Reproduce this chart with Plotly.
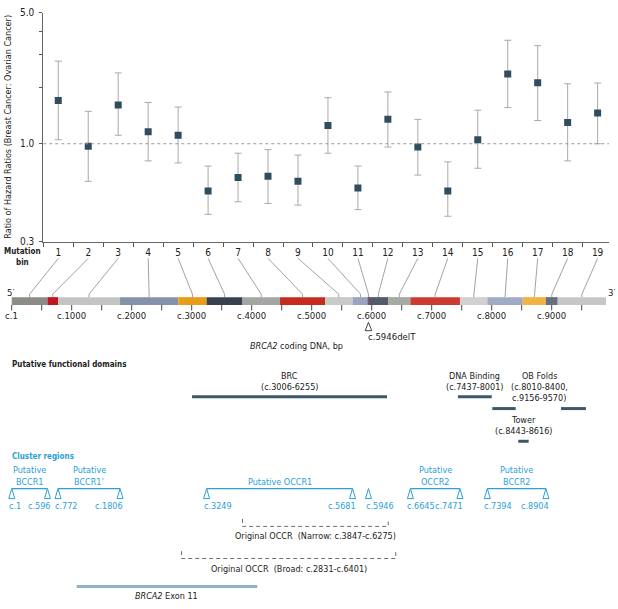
import plotly.graph_objects as go

W, H = 618, 609

# ---------------- data ----------------
bins = list(range(1, 20))
bin_labels = [str(b) for b in bins]
ratio   = [1.70, 0.97, 1.61, 1.16, 1.11, 0.56, 0.66, 0.67, 0.63, 1.25, 0.58, 1.35, 0.96, 0.56, 1.05, 2.36, 2.12, 1.30, 1.46]
ci_low  = [1.05, 0.63, 1.11, 0.81, 0.79, 0.42, 0.49, 0.48, 0.47, 0.89, 0.445, 0.96, 0.68, 0.41, 0.74, 1.56, 1.33, 0.81, 1.00]
ci_high = [2.76, 1.49, 2.39, 1.66, 1.57, 0.76, 0.89, 0.93, 0.87, 1.76, 0.76, 1.89, 1.35, 0.80, 1.51, 3.57, 3.34, 2.09, 2.11]

y_tick_vals = [0.3, 1, 2, 3, 4, 5]
y_tick_text = ["0.3", "1.0", "", "", "", "5.0"]

# mutation-bin segments on the BRCA2 coding sequence (bp)
bin_start_bp = [1, 596, 772, 1806, 2777, 3249, 3847, 4472, 5222, 5681, 5946, 5946, 6275, 6645, 7471, 7927, 8517, 8904, 9100]
bin_end_bp   = [596, 772, 1806, 2777, 3249, 3847, 4472, 5222, 5681, 5946, 5946, 6275, 6645, 7471, 7927, 8517, 8904, 9100, 9905]
bin_colors = ["#8b8c88", "#c1151f", "#c4c4c2", "#8491aa", "#e79d17", "#37424f", "#a4a6a3",
              "#c62b20", "#c9c9c7", "#98a5bd", "#8a4a7c", "#535b6a", "#a7a9a5", "#cc3b31",
              "#d1d1cf", "#9eabc3", "#efb444", "#656d81", "#c5c7c5"]

gene_tick_bp = [0, 500, 1000, 1500, 2000, 2500, 3000, 3500, 4000, 4500, 5000, 5500, 6000, 6500, 7000, 7500, 8000, 8500, 9000, 9500]
gene_label_bp = [1, 1000, 2000, 3000, 4000, 5000, 6000, 7000, 8000, 9000]
gene_label_text = ["c.1", "c.1000", "c.2000", "c.3000", "c.4000", "c.5000", "c.6000", "c.7000", "c.8000", "c.9000"]

mutation_bp = 5946
mutation_label = "c.5946delT"

# putative functional domains
domain_start = [3006, 7437, 8010, 9156, 8443]
domain_end   = [6255, 8001, 8400, 9570, 8616]
domain_row   = [0, 0, 1, 1, 2]
domain_label_lines = [["BRC", "(c.3006-6255)"], ["DNA Binding", "(c.7437-8001)"],
                      ["OB Folds", "(c.8010-8400,", "c.9156-9570)"], ["Tower", "(c.8443-8616)"]]
domain_label_center = [4630, 7719, 8790, 8530]
domain_label_row = [0, 0, 1, 2]

# cluster regions
cluster_names = [["Putative", "BCCR1"], ["Putative", "BCCR1'"], ["Putative OCCR1"], ["Putative", "OCCR2"], ["Putative", "BCCR2"]]
cluster_start = [1, 772, 3249, 6645, 7927]
cluster_end   = [596, 1806, 5681, 7471, 8904]
cluster_start_label = ["c.1", "c.772", "c.3249", "c.6645", "c.7394"]
cluster_end_label   = ["c.596", "c.1806", "c.5681", "c.7471", "c.8904"]
cluster_single = [5946]
cluster_single_label = ["c.5946"]

occr_names = ["Original OCCR  (Narrow: c.3847-c.6275)", "Original OCCR  (Broad: c.2831-c.6401)"]
occr_start = [3847, 2831]
occr_end   = [6275, 6401]

exon11_start, exon11_end = 1083, 4093
exon11_label = "<i>BRCA2</i> Exon 11"

# ---------------- layout constants ----------------
FONT = "Liberation Sans Narrow, Arial Narrow, DejaVu Sans Condensed, Roboto, sans-serif"
DARK = "#222222"
BLUE = "#2a9fd8"
GRAY_LINE = "#8a8a8a"
FS = 9          # general text size
FS_HEAD = 8     # bold headings

G_X0 = 11.7      # pixel of bp 0
G_PX = 0.06      # pixel per bp
X2_RANGE = [(0 - G_X0) / G_PX, (W - G_X0) / G_PX]

TOP_L, TOP_R, TOP_T, TOP_B = 43.3, 609.0, 8.0, 241.0
X1_RANGE = [0.5, 19.38]


def dpx(px):
    return px / G_PX


def px_x(px):
    return X2_RANGE[0] + dpx(px)


def bin_to_bp(b):
    px = TOP_L + (b - X1_RANGE[0]) / (X1_RANGE[1] - X1_RANGE[0]) * (TOP_R - TOP_L)
    return (px - G_X0) / G_PX


fig = go.Figure()

# ---------------- top chart ----------------
fig.add_trace(go.Scatter(
    x=bins, y=ratio, mode="markers",
    marker=dict(symbol="square", size=7, color="#2f4d5e"),
    error_y=dict(type="data", symmetric=False,
                 array=[h - r for h, r in zip(ci_high, ratio)],
                 arrayminus=[r - l for r, l in zip(ratio, ci_low)],
                 color="#a9a9a9", thickness=1, width=3.5),
    xaxis="x", yaxis="y", showlegend=False, hoverinfo="skip"))

shapes = []
shapes.append(dict(type="line", xref="x domain", yref="y", x0=0, x1=1, y0=1, y1=1,
                   line=dict(color="#9a9a9a", width=1, dash="dot")))

annotations = []


def txt(x, y, s, size=FS, color=DARK, xanchor="center", xshift=0, bold=False, angle=0):
    if bold:
        s = "<b>" + s + "</b>"
    annotations.append(dict(x=x, y=y, xref="x2", yref="y2", text=s, showarrow=False,
                            xanchor=xanchor, yanchor="middle", xshift=xshift, textangle=angle,
                            font=dict(family=FONT, size=size, color=color)))


# y-axis title
txt(px_x(8.5), (TOP_T + TOP_B) / 2, "Ratio of Hazard Ratios (Breast Cancer: Ovarian Cancer)", angle=-90)

# mutation bin label
txt(px_x(22), 251.5, "Mutation", bold=True, size=FS_HEAD)
txt(px_x(22), 262.5, "bin", bold=True, size=FS_HEAD)

# ---------------- gene bar ----------------
BAR_T, BAR_B = 297.5, 305.5
for s, e, c in zip(bin_start_bp, bin_end_bp, bin_colors):
    if e > s:
        shapes.append(dict(type="rect", xref="x2", yref="y2", x0=s, x1=e, y0=BAR_T, y1=BAR_B,
                           fillcolor=c, line=dict(width=0), layer="below"))
    else:
        shapes.append(dict(type="line", xref="x2", yref="y2", x0=s, x1=s, y0=BAR_T, y1=BAR_B,
                           line=dict(color=c, width=1.5)))

# leader lines from bin numbers to segment midpoints
lx, ly = [], []
for b, s, e in zip(bins, bin_start_bp, bin_end_bp):
    mid = (s + e) / 2
    lx += [bin_to_bp(b), mid, mid, None]
    ly += [258, 294.5, BAR_T, None]
fig.add_trace(go.Scatter(x=lx, y=ly, mode="lines", line=dict(color=GRAY_LINE, width=0.8),
                         xaxis="x2", yaxis="y2", showlegend=False, hoverinfo="skip"))

# gene ticks + labels
for t in gene_tick_bp:
    shapes.append(dict(type="line", xref="x2", yref="y2", x0=t, x1=t, y0=BAR_B, y1=311,
                       line=dict(color="#444444", width=1)))
for v, s in zip(gene_label_bp, gene_label_text):
    txt(v, 316.5, s, size=9.5)

txt(px_x(10), 293, "5\u2032", size=9.5)
txt(9905 + dpx(5), 292.5, "3\u2032", size=9.5)

# c.5946delT marker
shapes.append(dict(type="path", xref="x2", yref="y2",
                   path=f"M {mutation_bp - dpx(3.3)},331.7 L {mutation_bp},323.2 L {mutation_bp + dpx(3.3)},331.7 Z",
                   line=dict(color="#444444", width=1), fillcolor="white"))
txt(mutation_bp, 338, mutation_label, size=9.5, xanchor="left", xshift=-2)
txt(4740, 347, "<i>BRCA2</i> coding DNA, bp")

# ---------------- functional domains ----------------
txt(px_x(10), 366.5, "Putative functional domains", xanchor="left", bold=True, size=FS_HEAD)
row_y = [399, 411, 444.3]
label_top = [377.5, 377.5, 422.7]
for s, e, r in zip(domain_start, domain_end, domain_row):
    shapes.append(dict(type="line", xref="x2", yref="y2", x0=s, x1=e, y0=row_y[r], y1=row_y[r],
                       line=dict(color="#3b5868", width=3)))
for lines, cx, r in zip(domain_label_lines, domain_label_center, domain_label_row):
    for i, l in enumerate(lines):
        txt(cx, label_top[r] + i * 11.3, l)

# ---------------- cluster regions ----------------
txt(px_x(10), 460, "Cluster regions", xanchor="left", bold=True, color=BLUE, size=FS_HEAD)
BR_Y, TRI_B, LBL_Y = 492.5, 502.7, 510


def tri(x):
    shapes.append(dict(type="path", xref="x2", yref="y2",
                       path=f"M {x - dpx(3)},{TRI_B} L {x},{BR_Y} L {x + dpx(3)},{TRI_B} Z",
                       line=dict(color=BLUE, width=1), fillcolor="white"))


for names, s, e, sl, el in zip(cluster_names, cluster_start, cluster_end, cluster_start_label, cluster_end_label):
    shapes.append(dict(type="line", xref="x2", yref="y2", x0=s, x1=e, y0=BR_Y, y1=BR_Y,
                       line=dict(color=BLUE, width=1.2)))
    tri(s)
    tri(e)
    txt(s, LBL_Y, sl, color=BLUE, xanchor="left", xshift=-5)
    txt(e, LBL_Y, el, color=BLUE, xanchor="right", xshift=5)
    cx = (s + e) / 2
    if len(names) == 2:
        txt(cx, 474, names[0], color=BLUE)
        txt(cx, 485.7, names[1], color=BLUE)
    else:
        txt(cx, 485.7, names[0], color=BLUE)
for x, l in zip(cluster_single, cluster_single_label):
    tri(x)
    txt(x, LBL_Y, l, color=BLUE, xanchor="left", xshift=-4)

# original OCCR brackets
occr_y = [531, 563.7]
occr_txt_y = [541, 574]
for name, s, e, y, ty in zip(occr_names, occr_start, occr_end, occr_y, occr_txt_y):
    shapes.append(dict(type="path", xref="x2", yref="y2",
                       path=f"M {s},{y - 7.5} L {s},{y} L {e},{y} L {e},{y - 7.5}",
                       line=dict(color="#6e6e6e", width=1, dash="4px,3px")))
    txt((s + e) / 2, ty, name)

# exon 11
shapes.append(dict(type="line", xref="x2", yref="y2", x0=exon11_start, x1=exon11_end, y0=592.3, y1=592.3,
                   line=dict(color="#93b2c8", width=3)))
txt((exon11_start + exon11_end) / 2, 601.7, exon11_label)

# dummy trace to activate x2/y2
fig.add_trace(go.Scatter(x=[X2_RANGE[0]], y=[0], mode="markers", marker=dict(opacity=0),
                         xaxis="x2", yaxis="y2", showlegend=False, hoverinfo="skip"))

fig.update_layout(
    width=W, height=H, margin=dict(l=0, r=0, t=0, b=0),
    paper_bgcolor="white", plot_bgcolor="rgba(0,0,0,0)",
    font=dict(family=FONT, size=10, color=DARK),
    xaxis=dict(domain=[TOP_L / W, TOP_R / W], range=X1_RANGE, anchor="y",
               tickmode="array", tickvals=bins, ticktext=bin_labels,
               ticks="outside", ticklen=1, tickcolor="rgba(0,0,0,0)", ticklabelstandoff=0,
               tickfont=dict(size=10, color=DARK),
               minor=dict(tickmode="array", tickvals=[b + 0.5 for b in [0] + bins],
                          ticks="outside", ticklen=4, tickcolor="#555555", tickwidth=1),
               showline=True, linecolor="#666666", linewidth=1, showgrid=False, zeroline=False),
    yaxis=dict(domain=[(H - TOP_B) / H, (H - TOP_T) / H], type="log",
               range=[-0.5228787, 0.69897], anchor="x",
               tickmode="array", tickvals=y_tick_vals, ticktext=y_tick_text,
               ticks="outside", ticklen=3, tickcolor="#555555", ticklabelstandoff=3,
               tickfont=dict(size=10, color=DARK),
               showline=True, linecolor="#666666", linewidth=1, showgrid=False, zeroline=False),
    xaxis2=dict(domain=[0, 1], range=X2_RANGE, anchor="y2", visible=False),
    yaxis2=dict(domain=[0, 1], range=[H, 0], anchor="x2", visible=False),
    shapes=shapes, annotations=annotations,
)

fig.write_html("out.html", config={"displayModeBar": False},
               post_script="document.body.style.margin='0';document.body.style.overflow='hidden';")
